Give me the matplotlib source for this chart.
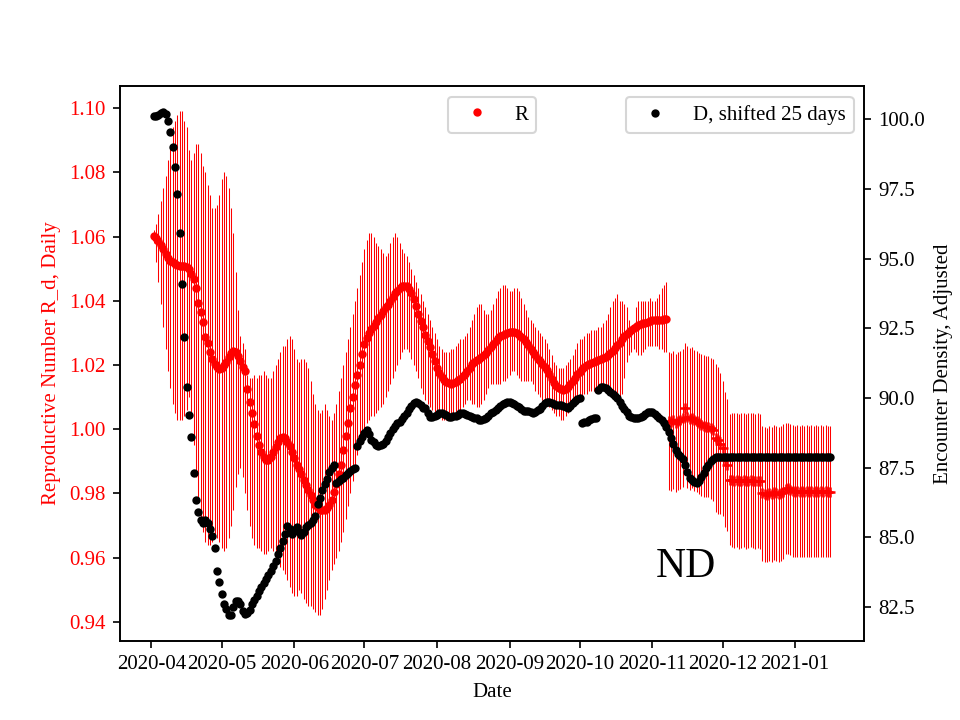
import pandas as pd
import matplotlib
matplotlib.use('Agg')
from matplotlib import pyplot as plt
import matplotlib.dates as mdates

plt.rcParams['font.family'] = ['Liberation Serif', 'DejaVu Serif']

start = '2020-04-02'

# R_d, daily, 2020-04-02 .. 2020-11-07
r_circ = [1.0603, 1.0595, 1.0587, 1.0575, 1.0560, 1.0547, 1.0535, 1.0525, 1.0520, 1.0515,
          1.0512, 1.0510, 1.0510, 1.0510, 1.0505, 1.0498, 1.0485, 1.0468, 1.0440, 1.0392,
          1.0365, 1.0335, 1.0288, 1.0270, 1.0240, 1.0220, 1.0204, 1.0195, 1.0188, 1.0192,
          1.0200, 1.0210, 1.0225, 1.0236, 1.0243, 1.0240, 1.0228, 1.0212, 1.0195, 1.0180,
          1.0125, 1.0085, 1.0050, 1.0015, 0.9980, 0.9950, 0.9928, 0.9913, 0.9905, 0.9904,
          0.9912, 0.9928, 0.9945, 0.9960, 0.9972, 0.9977, 0.9972, 0.9960, 0.9948, 0.9930,
          0.9910, 0.9890, 0.9875, 0.9860, 0.9842, 0.9826, 0.9812, 0.9795, 0.9780, 0.9765,
          0.9757, 0.9750, 0.9749, 0.9750, 0.9755, 0.9765, 0.9780, 0.9806, 0.9830, 0.9860,
          0.9890, 0.9935, 0.9980, 1.0020, 1.0065, 1.0102, 1.0139, 1.0170, 1.0200, 1.0233,
          1.0264, 1.0283, 1.0300, 1.0312, 1.0322, 1.0333, 1.0345, 1.0356, 1.0368, 1.0380,
          1.0388, 1.0400, 1.0412, 1.0423, 1.0432, 1.0440, 1.0445, 1.0447, 1.0445, 1.0436,
          1.0423, 1.0405, 1.0383, 1.0360, 1.0338, 1.0320, 1.0295, 1.0275, 1.0255, 1.0235,
          1.0212, 1.0190, 1.0175, 1.0163, 1.0152, 1.0147, 1.0143, 1.0141, 1.0143, 1.0147,
          1.0152, 1.0158, 1.0165, 1.0172, 1.0182, 1.0192, 1.0202, 1.0210, 1.0215, 1.0220,
          1.0226, 1.0231, 1.0238, 1.0247, 1.0257, 1.0266, 1.0275, 1.0283, 1.0290, 1.0294,
          1.0297, 1.0300, 1.0303, 1.0304, 1.0303, 1.0300, 1.0295, 1.0288, 1.0282, 1.0272,
          1.0262, 1.0251, 1.0240, 1.0230, 1.0220, 1.0213, 1.0203, 1.0193, 1.0184, 1.0172,
          1.0158, 1.0145, 1.0135, 1.0129, 1.0125, 1.0123, 1.0125, 1.0131, 1.0140, 1.0151,
          1.0161, 1.0171, 1.0177, 1.0187, 1.0193, 1.0199, 1.0203, 1.0207, 1.0210, 1.0213,
          1.0215, 1.0218, 1.0221, 1.0225, 1.0230, 1.0237, 1.0245, 1.0252, 1.0262, 1.0270,
          1.0282, 1.0292, 1.0298, 1.0303, 1.0308, 1.0314, 1.0319, 1.0324, 1.0327, 1.0330,
          1.0332, 1.0335, 1.0337, 1.0340, 1.0341, 1.0341, 1.0341, 1.0341, 1.0342, 1.0342]

# interval of the daily estimate (bottom / top of each bar)
r_lo = [1.058, 1.052, 1.046, 1.039, 1.032, 1.025, 1.018, 1.013, 1.008, 1.005,
        1.003, 1.003, 1.003, 1.004, 1.006, 1.010, 1.005, 0.995, 0.985, 0.978,
        0.972, 0.968, 0.965, 0.964, 0.964, 0.965, 0.966, 0.966, 0.965, 0.963,
        0.962, 0.963, 0.966, 0.970, 0.975, 0.982, 0.986, 0.988, 0.985, 0.980,
        0.975, 0.970, 0.966, 0.964, 0.963, 0.963, 0.962, 0.961, 0.961, 0.962,
        0.963, 0.962, 0.960, 0.958, 0.957, 0.956, 0.955, 0.953, 0.951, 0.949,
        0.948, 0.948, 0.950, 0.949, 0.947, 0.946, 0.945, 0.945, 0.944, 0.943,
        0.942, 0.942, 0.944, 0.947, 0.950, 0.953, 0.956, 0.958, 0.960, 0.962,
        0.965, 0.968, 0.972, 0.976, 0.980, 0.984, 0.988, 0.992, 0.995, 0.998,
        1.000, 1.002, 1.003, 1.004, 1.004, 1.005, 1.006, 1.007, 1.008, 1.010,
        1.012, 1.014, 1.016, 1.018, 1.020, 1.022, 1.024, 1.025, 1.025, 1.024,
        1.022, 1.020, 1.018, 1.016, 1.013, 1.011, 1.009, 1.008, 1.007, 1.006,
        1.005, 1.004, 1.004, 1.003, 1.003, 1.003, 1.003, 1.004, 1.004, 1.005,
        1.006, 1.006, 1.007, 1.008, 1.009, 1.009, 1.008, 1.008, 1.007, 1.007,
        1.008, 1.009, 1.011, 1.013, 1.014, 1.014, 1.014, 1.014, 1.014, 1.015,
        1.015, 1.016, 1.017, 1.018, 1.018, 1.017, 1.016, 1.015, 1.015, 1.015,
        1.015, 1.015, 1.014, 1.012, 1.011, 1.010, 1.009, 1.008, 1.008, 1.007,
        1.006, 1.005, 1.004, 1.004, 1.003, 1.003, 1.004, 1.005, 1.006, 1.007,
        1.008, 1.008, 1.009, 1.010, 1.011, 1.011, 1.012, 1.012, 1.012, 1.013,
        1.013, 1.013, 1.013, 1.013, 1.012, 1.012, 1.011, 1.011, 1.010, 1.010,
        1.011, 1.016, 1.021, 1.023, 1.024, 1.025, 1.024, 1.023, 1.023, 1.024,
        1.025, 1.026, 1.026, 1.026, 1.026, 1.026, 1.025, 1.025, 1.024, 1.024]

r_hi = [1.062, 1.064, 1.067, 1.071, 1.075, 1.079, 1.084, 1.088, 1.094, 1.096,
        1.098, 1.099, 1.099, 1.096, 1.094, 1.087, 1.084, 1.086, 1.089, 1.089,
        1.086, 1.082, 1.080, 1.076, 1.073, 1.069, 1.069, 1.070, 1.073, 1.078,
        1.080, 1.079, 1.075, 1.069, 1.061, 1.049, 1.037, 1.029, 1.027, 1.025,
        1.017, 1.016, 1.016, 1.017, 1.016, 1.017, 1.017, 1.018, 1.017, 1.016,
        1.016, 1.018, 1.020, 1.022, 1.024, 1.026, 1.026, 1.028, 1.029, 1.028,
        1.025, 1.022, 1.021, 1.022, 1.022, 1.021, 1.019, 1.015, 1.011, 1.008,
        1.006, 1.005, 1.006, 1.008, 1.006, 1.004, 1.003, 1.005, 1.008, 1.012,
        1.016, 1.020, 1.024, 1.028, 1.032, 1.036, 1.040, 1.044, 1.048, 1.052,
        1.056, 1.059, 1.061, 1.061, 1.060, 1.058, 1.057, 1.056, 1.055, 1.054,
        1.055, 1.058, 1.060, 1.061, 1.060, 1.058, 1.056, 1.055, 1.054, 1.052,
        1.050, 1.048, 1.046, 1.044, 1.042, 1.040, 1.038, 1.036, 1.034, 1.032,
        1.030, 1.028, 1.026, 1.025, 1.024, 1.024, 1.024, 1.025, 1.025, 1.026,
        1.027, 1.028, 1.028, 1.029, 1.030, 1.032, 1.034, 1.036, 1.038, 1.039,
        1.039, 1.037, 1.036, 1.036, 1.037, 1.039, 1.041, 1.043, 1.044, 1.045,
        1.045, 1.044, 1.043, 1.043, 1.044, 1.044, 1.043, 1.041, 1.039, 1.037,
        1.035, 1.034, 1.033, 1.032, 1.031, 1.030, 1.029, 1.028, 1.027, 1.025,
        1.023, 1.021, 1.020, 1.019, 1.019, 1.019, 1.020, 1.021, 1.022, 1.023,
        1.025, 1.027, 1.028, 1.028, 1.029, 1.030, 1.030, 1.031, 1.031, 1.031,
        1.032, 1.032, 1.033, 1.034, 1.036, 1.038, 1.040, 1.041, 1.042, 1.040,
        1.040, 1.039, 1.038, 1.034, 1.031, 1.033, 1.038, 1.040, 1.040, 1.040,
        1.040, 1.040, 1.041, 1.040, 1.040, 1.041, 1.042, 1.044, 1.045, 1.046]

# R_d, last part, 2020-11-08 .. 2021-01-16
r_plus = [1.0025, 1.0022, 1.0030, 1.0018, 1.0025, 1.0028, 1.0035, 1.0065, 1.0038, 1.0032,
          1.0036, 1.0028, 1.0025, 1.0018, 1.0013, 1.0010, 1.0008, 1.0008, 1.0003, 0.9998,
          0.9972, 0.9965, 0.9955, 0.9941, 0.9905, 0.9889, 0.9843, 0.9842, 0.9840, 0.9842,
          0.9838, 0.9840, 0.9842, 0.9838, 0.9840, 0.9842, 0.9840, 0.9838, 0.9840, 0.9838,
          0.9801, 0.9798, 0.9795, 0.9800, 0.9798, 0.9803, 0.9800, 0.9797, 0.9801, 0.9805,
          0.9815, 0.9816, 0.9812, 0.9808, 0.9806, 0.9808, 0.9806, 0.9807, 0.9806, 0.9808,
          0.9806, 0.9807, 0.9806, 0.9808, 0.9806, 0.9807, 0.9806, 0.9808, 0.9806, 0.9806]

r_plus_err = [0.0215, 0.0215, 0.0215, 0.0215, 0.0215, 0.0215, 0.0215, 0.0205, 0.0220, 0.0220,
              0.0220, 0.0220, 0.0220, 0.0220, 0.0220, 0.0220, 0.0220, 0.0220, 0.0220, 0.0220,
              0.0230, 0.0230, 0.0220, 0.0210, 0.0210, 0.0205, 0.0205, 0.0210, 0.0210, 0.0210,
              0.0210, 0.0210, 0.0210, 0.0210, 0.0210, 0.0210, 0.0210, 0.0210, 0.0210, 0.0210,
              0.0210, 0.0210, 0.0210, 0.0210, 0.0210, 0.0210, 0.0210, 0.0210, 0.0210, 0.0210,
              0.0205, 0.0205, 0.0205, 0.0205, 0.0205, 0.0205, 0.0205, 0.0205, 0.0205, 0.0205,
              0.0205, 0.0205, 0.0205, 0.0205, 0.0205, 0.0205, 0.0205, 0.0205, 0.0205, 0.0205]

# encounter density, shifted 25 days, 2020-04-02 .. 2021-01-16
dens = [100.10, 100.10, 100.16, 100.22, 100.26, 100.20, 99.93, 99.56, 99.00, 98.30,
        97.30, 95.90, 94.10, 92.20, 90.40, 89.40, 88.60, 87.30, 86.35, 85.90,
        85.60, 85.50, 85.60, 85.50, 85.30, 85.05, 84.60, 83.80, 83.40, 82.95,
        82.60, 82.43, 82.20, 82.22, 82.50, 82.70, 82.72, 82.60, 82.35, 82.25,
        82.28, 82.40, 82.60, 82.75, 82.90, 83.05, 83.20, 83.35, 83.50, 83.65,
        83.80, 83.95, 84.15, 84.38, 84.62, 84.85, 85.10, 85.40, 85.30, 85.13,
        85.25, 85.38, 85.20, 85.07, 85.20, 85.38, 85.45, 85.50, 85.60, 85.75,
        86.20, 86.40, 86.70, 86.90, 87.10, 87.35, 87.48, 87.58, 86.96, 87.00,
        87.10, 87.14, 87.22, 87.30, 87.38, 87.46, 87.50, 88.28, 88.45, 88.60,
        88.75, 88.84, 88.70, 88.50, 88.40, 88.30, 88.28, 88.30, 88.34, 88.45,
        88.60, 88.75, 88.90, 89.00, 89.10, 89.15, 89.25, 89.34, 89.45, 89.60,
        89.70, 89.80, 89.85, 89.82, 89.75, 89.65, 89.62, 89.45, 89.30, 89.30,
        89.34, 89.40, 89.47, 89.45, 89.41, 89.38, 89.30, 89.32, 89.34, 89.34,
        89.40, 89.47, 89.45, 89.41, 89.38, 89.34, 89.30, 89.28, 89.26, 89.22,
        89.22, 89.25, 89.28, 89.36, 89.44, 89.50, 89.57, 89.62, 89.70, 89.78,
        89.82, 89.85, 89.85, 89.82, 89.78, 89.72, 89.66, 89.60, 89.53, 89.53,
        89.53, 89.50, 89.47, 89.50, 89.56, 89.60, 89.70, 89.80, 89.86, 89.85,
        89.82, 89.78, 89.76, 89.75, 89.75, 89.72, 89.68, 89.64, 89.70, 89.80,
        89.90, 89.95, 90.00, 89.10, 89.12, 89.15, 89.20, 89.24, 89.27, 89.28,
        90.28, 90.38, 90.40, 90.36, 90.30, 90.22, 90.15, 90.06, 89.98, 89.85,
        89.72, 89.60, 89.48, 89.36, 89.30, 89.28, 89.27, 89.28, 89.30, 89.35,
        89.42, 89.48, 89.50, 89.48, 89.42, 89.35, 89.28, 89.22, 89.10, 88.95,
        88.78, 88.55, 88.35, 88.13, 88.00, 87.90, 87.80, 87.60, 87.35, 87.12,
        87.05, 86.97, 86.94, 87.00, 87.15, 87.30, 87.48, 87.60, 87.72, 87.82,
        87.88, 87.88, 87.88, 87.88, 87.88, 87.88, 87.88, 87.88, 87.88, 87.88,
        87.88, 87.88, 87.88, 87.88, 87.88, 87.88, 87.88, 87.88, 87.88, 87.88,
        87.88, 87.88, 87.88, 87.88, 87.88, 87.88, 87.88, 87.88, 87.88, 87.88,
        87.88, 87.88, 87.88, 87.88, 87.88, 87.88, 87.88, 87.88, 87.88, 87.88,
        87.88, 87.88, 87.88, 87.88, 87.88, 87.88, 87.88, 87.88, 87.88, 87.88]

dates = pd.date_range(start, periods=len(dens), freq='D')
d_circ = dates[:len(r_circ)]
d_plus = dates[len(r_circ):len(r_circ) + len(r_plus)]

fig, ax = plt.subplots(figsize=(6.4, 4.8), dpi=150)
ax.vlines(d_circ, r_lo, r_hi, colors='r', linewidth=0.5)
ax.plot(d_circ, r_circ, 'r.', label='R')
ax.errorbar(d_plus, r_plus, yerr=r_plus_err, fmt='+', color='r', ecolor='r',
            elinewidth=0.5, markersize=4.5, markeredgewidth=1.2)
ax.set_ylim(0.9341, 1.1068)
ax.set_ylabel('Reproductive Number R_d, Daily', color='r')
ax.tick_params(axis='y', labelcolor='r')
ax.set_xlabel('Date')
ax.xaxis.set_major_locator(mdates.MonthLocator())
ax.xaxis.set_major_formatter(mdates.DateFormatter('%Y-%m'))
ax.legend(loc='upper center')
ax.text(0.72, 0.115, 'ND', transform=ax.transAxes, fontsize=20)

ax2 = ax.twinx()
ax2.plot(dates, dens, 'k.', label='D, shifted 25 days')
ax2.set_ylim(81.28, 101.18)
ax2.set_ylabel('Encounter Density, Adjusted')
ax2.legend(loc='upper right')

plt.savefig('out.png', dpi=150)
